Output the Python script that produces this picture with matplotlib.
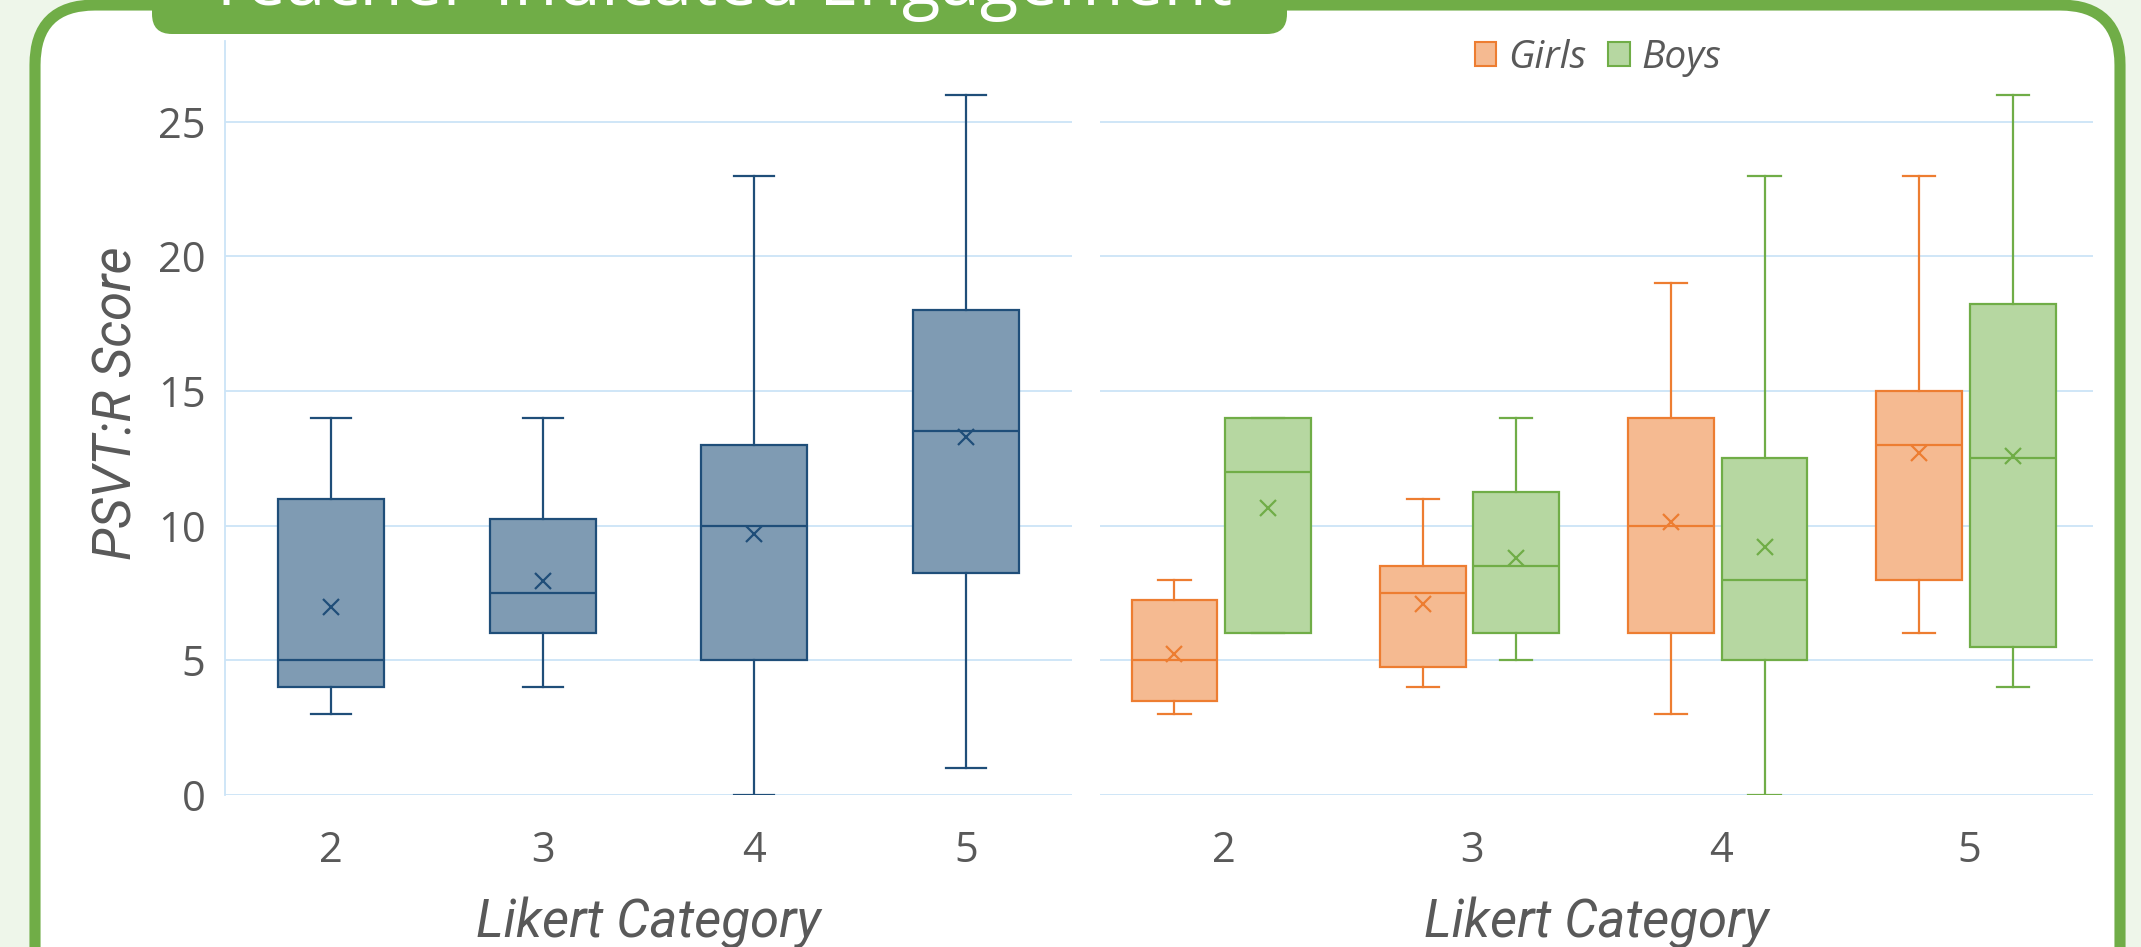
import matplotlib.pyplot as plt
from matplotlib.patches import FancyBboxPatch, Rectangle, Patch

# ---- data ----
categories = [2, 3, 4, 5]

# all students (left panel)
all_lo = [3, 4, 0, 1]
all_q1 = [4, 6, 5, 8.25]
all_med = [5, 7.5, 10, 13.5]
all_q3 = [11, 10.25, 13, 18]
all_hi = [14, 14, 23, 26]
all_mean = [7.0, 7.95, 9.7, 13.3]

# girls (right panel)
girls_lo = [3, 4, 3, 6]
girls_q1 = [3.5, 4.75, 6, 8]
girls_med = [5, 7.5, 10, 13]
girls_q3 = [7.25, 8.5, 14, 15]
girls_hi = [8, 11, 19, 23]
girls_mean = [5.25, 7.1, 10.15, 12.7]

# boys (right panel)
boys_lo = [6, 5, 0, 4]
boys_q1 = [6, 6, 5, 5.5]
boys_med = [12, 8.5, 8, 12.5]
boys_q3 = [14, 11.25, 12.5, 18.25]
boys_hi = [14, 14, 23, 26]
boys_mean = [10.65, 8.8, 9.2, 12.6]

yticks = [0, 5, 10, 15, 20, 25]

NAVY, NAVY_FILL = '#1F4E79', '#7F9BB3'
ORANGE, ORANGE_FILL = '#ED7D31', '#F5BA91'
GREEN, GREEN_FILL = '#70AD47', '#B6D7A1'
GRID = '#CCE4F7'
TXT = '#595959'
TICK_FONT = ['Open Sans', 'DejaVu Sans']
LABEL_FONT = ['Roboto', 'DejaVu Sans']


def make_stats(lo, q1, med, q3, hi, mean):
    return [dict(whislo=a, q1=b, med=c, q3=d, whishi=e, mean=f, fliers=[])
            for a, b, c, d, e, f in zip(lo, q1, med, q3, hi, mean)]


def draw_boxes(ax, stats, pos, width, cap, edge, fill):
    ax.bxp(stats, positions=pos, widths=width, capwidths=cap,
           patch_artist=True, showmeans=True, showfliers=False,
           boxprops=dict(facecolor=fill, edgecolor=edge, linewidth=1.6),
           medianprops=dict(color=edge, linewidth=1.6),
           whiskerprops=dict(color=edge, linewidth=1.6),
           capprops=dict(color=edge, linewidth=1.6),
           meanprops=dict(marker='x', markeredgecolor=edge, markersize=12,
                          markeredgewidth=1.6))


W, H = 2141, 947
fig = plt.figure(figsize=(W / 100, H / 100), dpi=100)


def rect(x0, y0, x1, y1):
    return [x0 / W, 1 - y1 / H, (x1 - x0) / W, (y1 - y0) / H]


# background and green frame
bg = fig.add_axes([0, 0, 1, 1], zorder=0)
bg.set_xlim(0, W)
bg.set_ylim(H, 0)
bg.axis('off')
bg.add_patch(Rectangle((0, 0), W, H, color='#EEF6EA'))
bg.add_patch(FancyBboxPatch((35, 5), 2085, 1100,
                            boxstyle='round,pad=0,rounding_size=60',
                            fc='white', ec=GREEN, lw=8))

# plot panels
top_px, zero_px = 41, 795
ax1 = fig.add_axes(rect(225, top_px, 1072, zero_px), zorder=1)
ax2 = fig.add_axes(rect(1100, top_px, 2093, zero_px), zorder=1)

draw_boxes(ax1, make_stats(all_lo, all_q1, all_med, all_q3, all_hi, all_mean),
           categories, 0.5, 0.19, NAVY, NAVY_FILL)
draw_boxes(ax2, make_stats(girls_lo, girls_q1, girls_med, girls_q3, girls_hi, girls_mean),
           [c - 0.2 for c in categories], 0.345, 0.13, ORANGE, ORANGE_FILL)
draw_boxes(ax2, make_stats(boys_lo, boys_q1, boys_med, boys_q3, boys_hi, boys_mean),
           [c + 0.177 for c in categories], 0.345, 0.13, GREEN, GREEN_FILL)

for ax in (ax1, ax2):
    ax.set_facecolor('none')
    ax.set_xlim(1.5, 5.5)
    ax.set_ylim(0, 28)
    ax.set_yticks(yticks)
    ax.set_xticks(categories)
    ax.set_xticklabels([str(c) for c in categories], family=TICK_FONT,
                       fontsize=30, color=TXT)
    ax.grid(axis='y', color=GRID, linewidth=1.3)
    ax.set_axisbelow(True)
    for s in ax.spines.values():
        s.set_visible(False)
    ax.tick_params(length=0)
    ax.tick_params(axis='x', pad=25)
    ax.set_xlabel('Likert Category', fontsize=38, style='italic',
                  family=LABEL_FONT, color=TXT, labelpad=18)

ax1.spines['left'].set_visible(True)
ax1.spines['left'].set_color(GRID)
ax1.spines['left'].set_linewidth(1.3)
ax1.set_yticklabels([str(t) for t in yticks], family=TICK_FONT,
                    fontsize=30, color=TXT)
ax1.tick_params(axis='y', pad=14)
ax1.set_ylabel('PSVT:R Score', fontsize=38, style='italic',
               family=LABEL_FONT, color=TXT, labelpad=11)
ax1.yaxis.label.set_y(0.52)
ax2.set_yticklabels([])

# legend
handles = [Patch(fc=ORANGE_FILL, ec=ORANGE, lw=1.5),
           Patch(fc=GREEN_FILL, ec=GREEN, lw=1.5)]
fig.legend(handles, ['Girls', 'Boys'], loc='center',
           bbox_to_anchor=(1598 / W, 1 - 58 / H), ncol=2, frameon=False,
           prop=dict(family=TICK_FONT, style='italic', size=28),
           labelcolor=TXT, handlelength=0.56, handleheight=0.56,
           handletextpad=0.3, columnspacing=0.56)

# title banner
ov = fig.add_axes([0, 0, 1, 1], zorder=3)
ov.set_xlim(0, W)
ov.set_ylim(H, 0)
ov.axis('off')
ov.add_patch(FancyBboxPatch((152, -80), 1135, 114,
                            boxstyle='round,pad=0,rounding_size=20',
                            fc=GREEN, ec='none'))
ov.text(720, 5, 'Teacher-Indicated Engagement', ha='center', va='baseline',
        color='white', fontsize=51, family=TICK_FONT)

fig.savefig('out.png', dpi=100)
